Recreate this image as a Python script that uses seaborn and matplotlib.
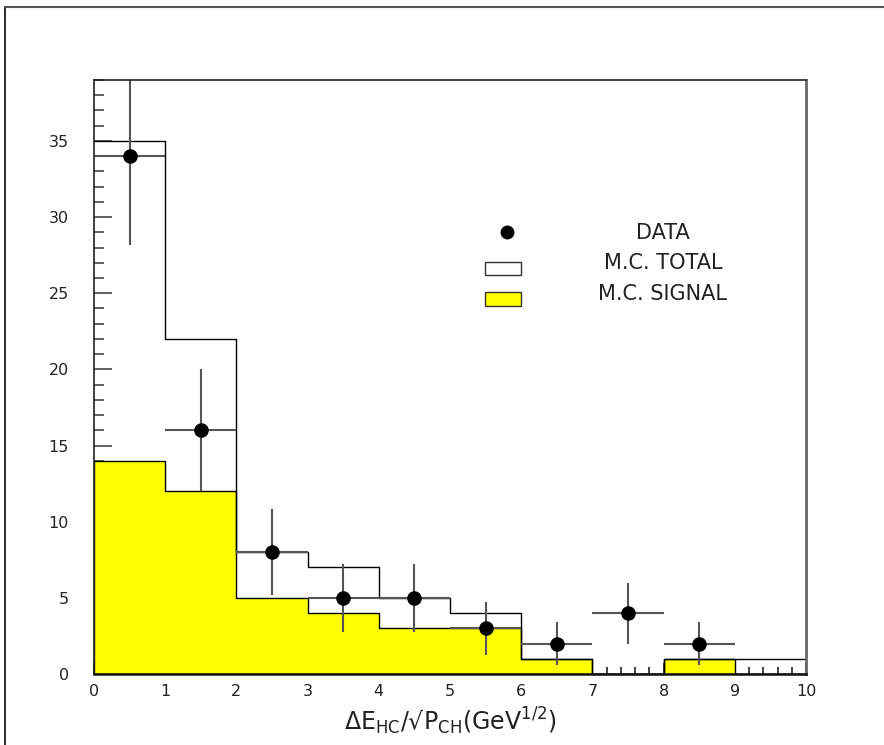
import numpy as np
import pandas as pd
import matplotlib
matplotlib.use("Agg")
import matplotlib.pyplot as plt
from matplotlib.lines import Line2D
from matplotlib.patches import Rectangle
from matplotlib.ticker import MultipleLocator
import seaborn as sns

# ---- data ----
bin_edges = [0, 1, 2, 3, 4, 5, 6, 7, 8, 9, 10]
bin_centers = [0.5, 1.5, 2.5, 3.5, 4.5, 5.5, 6.5, 7.5, 8.5, 9.5]
mc_total = [35, 22, 8, 7, 5, 4, 1, 0, 1, 1]
mc_signal = [14, 12, 5, 4, 3, 3, 1, 0, 1, 0]
data_x = [0.5, 1.5, 2.5, 3.5, 4.5, 5.5, 6.5, 7.5, 8.5]
data_y = [34, 16, 8, 5, 5, 3, 2, 4, 2]
data_err = [5.83, 4.0, 2.83, 2.24, 2.24, 1.73, 1.41, 2.0, 1.41]
x_ticks = [0, 1, 2, 3, 4, 5, 6, 7, 8, 9, 10]
y_ticks = [0, 5, 10, 15, 20, 25, 30, 35]

sns.set_style("white")
plt.rcParams['font.family'] = ['DejaVu Sans']
plt.rcParams['mathtext.fontset'] = 'dejavusans'
plt.rcParams['mathtext.default'] = 'regular'

fig = plt.figure(figsize=(8.84, 7.45), dpi=100)
ax = fig.add_axes([94/884, 1-674/745, (806-94)/884, (674-80)/745])

df = pd.DataFrame({"x": bin_centers, "total": mc_total, "signal": mc_signal})

sns.histplot(data=df, x="x", weights="signal", bins=bin_edges, element="step",
             fill=True, color="#ffff00", alpha=1.0, edgecolor="black",
             linewidth=1.0, ax=ax, zorder=2)
sns.histplot(data=df, x="x", weights="total", bins=bin_edges, element="step",
             fill=False, color="black", linewidth=1.0, ax=ax, zorder=3)

ax.errorbar(data_x, data_y, xerr=0.5, yerr=data_err, fmt='none',
            ecolor="#555555", elinewidth=1.5, capsize=0, zorder=4)
sns.scatterplot(x=data_x, y=data_y, color="black", s=110, edgecolor="black",
                linewidth=0, ax=ax, zorder=5)

ax.set_xlim(0, 10)
ax.set_ylim(0, 39)
ax.set_xticks(x_ticks)
ax.set_yticks(y_ticks)
ax.xaxis.set_minor_locator(MultipleLocator(0.2))
ax.yaxis.set_minor_locator(MultipleLocator(1))
ax.tick_params(axis='y', which='major', direction='in', length=13, width=1.2,
               color="#444444", labelsize=11.5, pad=18, left=True, labelcolor='#222222')
ax.tick_params(axis='y', which='minor', direction='in', length=7, width=1.2,
               color="#444444", left=True)
ax.tick_params(axis='x', which='major', direction='in', length=8, width=1.2,
               color="#222222", labelsize=11.5, pad=7, bottom=True, labelcolor='#222222')
ax.tick_params(axis='x', which='minor', direction='in', length=5, width=1.2,
               color="#222222", bottom=True)
ax.set_ylabel("")
ax.set_xlabel('ΔE$_{HC}$/√P$_{CH}$(GeV$^{1/2}$)', fontsize=17, labelpad=5,
              color='#222222')

for s in ['top', 'left']:
    ax.spines[s].set_color('#222222')
    ax.spines[s].set_linewidth(1.2)
ax.spines['bottom'].set_color('#111111')
ax.spines['bottom'].set_linewidth(1.8)
ax.spines['right'].set_color('#666666')
ax.spines['right'].set_linewidth(2.0)
for s in ax.spines.values():
    s.set_zorder(6)

# legend
T = ax.transAxes
def fx(px):
    return (px - 94) / (806 - 94)
def fy(py):
    return (674 - py) / (674 - 80)
ax.plot([fx(507)], [fy(232)], 'o', color='black', markersize=9, transform=T, zorder=7)
ax.add_patch(Rectangle((fx(485), fy(275)), fx(521)-fx(485), fy(262)-fy(275),
                       facecolor='white', edgecolor='#333333', linewidth=1.0,
                       transform=T, zorder=7))
ax.add_patch(Rectangle((fx(485), fy(306)), fx(521)-fx(485), fy(292)-fy(306),
                       facecolor='#ffff00', edgecolor='#333333', linewidth=1.0,
                       transform=T, zorder=7))
for label, py in [("DATA", 233), ("M.C. TOTAL", 263), ("M.C. SIGNAL", 294)]:
    ax.text(fx(663), fy(py), label, transform=T, ha='center', va='center',
            fontsize=15, color='#222222', zorder=7)

# outer frame
fig.add_artist(Line2D([5/884, 5/884], [0, 1-7/745], color='#333333', linewidth=1.5))
fig.add_artist(Line2D([5/884, 1], [1-7/745, 1-7/745], color='#555555', linewidth=1.5))

fig.savefig("out.png", dpi=100)
